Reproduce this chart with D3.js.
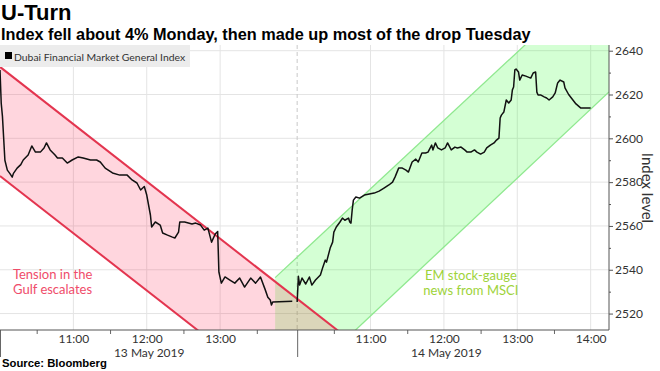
<!DOCTYPE html>
<html>
<head>
<meta charset="utf-8">
<script src="https://cdn.jsdelivr.net/npm/d3@7"></script>
<style>
  body { margin: 0; background: #fff; }
  svg { display: block; }
</style>
</head>
<body>
<script>
// U-Turn: Dubai Financial Market General Index, 13-14 May 2019

// Size of the picture and the plot box
const w = 660;
const h = 371;
const plot = {left: 0, right: 609, top: 45, bottom: 330};

// Day 1 (13 May 2019) intraday readings
const day1Times = ["10:00","10:01","10:02","10:03","10:04","10:06","10:08","10:10","10:11","10:14","10:17","10:19","10:23","10:26","10:29","10:33","10:36","10:38","10:41","10:45","10:47","10:51","10:55","10:59","11:04","11:08","11:14","11:19","11:22","11:26","11:32","11:38","11:44","11:48","11:52","11:55","11:58","12:00","12:03","12:04","12:07","12:11","12:13","12:17","12:21","12:23","12:26","12:27","12:31","12:37","12:40","12:44","12:47","12:50","12:53","12:56","12:58","12:59","13:01","13:04","13:08","13:12","13:16","13:20","13:25","13:29","13:33","13:37","13:39","13:41","13:42","13:43","13:59"];
const day1Values = [2631.2,2616,2610,2600,2590,2585.5,2584,2582.3,2584,2586.4,2588,2590.1,2592.4,2596.5,2593.7,2593.7,2595.6,2597.9,2594.7,2592.4,2591.0,2591.0,2588.7,2590.1,2591.5,2591.0,2590.1,2590.1,2589.2,2586.4,2584.2,2583.2,2583.2,2581.0,2579.6,2576.4,2578,2574.1,2565.0,2559.5,2561.8,2560.4,2556.8,2555.8,2554.9,2554.5,2557.2,2561.8,2561.8,2560.9,2561.3,2560.4,2558.1,2559.0,2552.6,2556.3,2557.5,2538.9,2533.9,2536.7,2535.3,2533.9,2536.2,2532.1,2536.2,2533.9,2536.7,2530.7,2527.5,2526.2,2523.9,2525.3,2525.6];

// Day 2 (14 May 2019) intraday readings
const day2Times = ["10:00","10:01","10:02","10:04","10:07","10:10","10:12","10:15","10:19","10:21","10:23","10:24","10:27","10:29","10:30","10:32","10:35","10:37","10:39","10:42","10:43","10:44","10:45","10:46","10:48","10:51","10:55","10:59","11:03","11:07","11:11","11:15","11:18","11:20","11:23","11:26","11:29","11:31","11:34","11:37","11:39","11:42","11:45","11:47","11:50","11:51","11:53","11:55","11:58","12:01","12:03","12:06","12:09","12:11","12:14","12:17","12:19","12:22","12:25","12:27","12:30","12:33","12:35","12:38","12:41","12:43","12:45","12:46","12:47","12:49","12:51","12:53","12:55","12:56","12:57","12:58","12:59","13:01","13:02","13:04","13:07","13:11","13:13","13:15","13:16","13:17","13:19","13:22","13:24","13:26","13:29","13:31","13:33","13:35","13:38","13:39","13:42","13:48","13:52","13:56","14:00"];
const day2Values = [2525.3,2537.0,2533.0,2536.2,2533.5,2536.7,2533.0,2535.3,2537.6,2541.2,2544.4,2543.5,2549.9,2552.6,2557.2,2559.5,2561.8,2563.6,2562.6,2563.6,2561.8,2561.3,2567.3,2571.8,2573.2,2572.7,2574.1,2574.6,2575.0,2575.9,2577.3,2578.7,2580.0,2582.3,2586.4,2586.4,2585.5,2584.6,2589.2,2590.5,2589.2,2593.3,2593.3,2593.7,2596.9,2594.7,2597.9,2595.6,2594.7,2595.6,2597.9,2594.7,2596.0,2595.6,2596.0,2594.7,2593.7,2593.7,2594.7,2593.7,2592.8,2593.7,2595.6,2596.9,2597.9,2599.2,2600.1,2609.3,2610.6,2612.0,2617.5,2616.1,2617.5,2622.1,2623.4,2631.2,2631.6,2630.3,2626.6,2628.9,2628.4,2627.5,2629.8,2630.3,2621.1,2619.8,2619.8,2618.9,2618.4,2617.5,2618.9,2620.7,2625.3,2626.6,2625.7,2623.0,2620.0,2615.7,2613.8,2613.8,2613.8];

// Axis labels
const dayLabels = ["13 May 2019", "14 May 2019"];
const day1Hours = ["11:00", "12:00", "13:00"];
const day2Hours = ["11:00", "12:00", "13:00", "14:00"];
const halfHours = ["10:30", "11:30", "12:30", "13:30"];
const yTicks = [2520, 2540, 2560, 2580, 2600, 2620, 2640];
const yMinorTicks = [2530, 2550, 2570, 2590, 2610, 2630];

// Trend channels, as [session minute, index level]
const redUpper = [[0, 2632.6], [300, 2501.9]];
const redLower = [[0, 2582.8], [200, 2495.7]];
const greenUpper = [[225, 2536.4], [498, 2678.3]];
const greenLower = [[225, 2478.0], [498, 2621.2]];

// Session minutes: day 1 starts at 0, day 2 at 243
const dayStart = [0, 243];
const toMin = (day, s) => {
  const p = s.split(":").map(Number);
  return dayStart[day] + (p[0] - 10) * 60 + p[1];
};

const xScale = d3.scaleLinear().domain([0, 498]).range([plot.left, plot.right]);
const yScale = d3.scaleLinear().domain([2512.5, 2642.6]).range([plot.bottom, plot.top]);

const svg = d3.select("body").append("svg")
  .attr("width", w)
  .attr("height", h);

svg.append("defs").append("clipPath").attr("id", "plotClip")
  .append("rect")
  .attr("x", plot.left).attr("y", plot.top)
  .attr("width", plot.right - plot.left).attr("height", plot.bottom - plot.top);

// Titles
svg.append("text")
  .attr("x", 1).attr("y", 20)
  .style("font-family", "Liberation Sans, Arial, sans-serif")
  .style("font-weight", "bold")
  .style("font-size", "22px")
  .style("fill", "#000")
  .text("U-Turn");

svg.append("text")
  .attr("x", 1).attr("y", 39.5)
  .style("font-family", "Liberation Sans, Arial, sans-serif")
  .style("font-weight", "bold")
  .style("font-size", "16.3px")
  .style("fill", "#000")
  .text("Index fell about 4% Monday, then made up most of the drop Tuesday");

// Gridlines
const hourMins = day1Hours.map(t => toMin(0, t)).concat(day2Hours.map(t => toMin(1, t)));
const halfMins = halfHours.map(t => toMin(0, t)).concat(halfHours.map(t => toMin(1, t)));

svg.append("g").selectAll("line")
  .data(yTicks)
  .enter().append("line")
  .attr("x1", plot.left).attr("x2", plot.right)
  .attr("y1", d => yScale(d)).attr("y2", d => yScale(d))
  .attr("stroke", "#e4e4e4").attr("stroke-width", 1);

svg.append("g").selectAll("line")
  .data(hourMins)
  .enter().append("line")
  .attr("x1", d => xScale(d)).attr("x2", d => xScale(d))
  .attr("y1", plot.top).attr("y2", plot.bottom)
  .attr("stroke", "#e4e4e4").attr("stroke-width", 1);

// Dashed day break
svg.append("line")
  .attr("x1", xScale(dayStart[1])).attr("x2", xScale(dayStart[1]))
  .attr("y1", plot.top).attr("y2", plot.bottom)
  .attr("stroke", "#c8c8c8").attr("stroke-dasharray", "4,3");

// Channels
const bands = svg.append("g").attr("clip-path", "url(#plotClip)");
const lineGen = d3.line().x(d => xScale(d[0])).y(d => yScale(d[1]));

bands.append("path")
  .attr("d", lineGen(greenUpper.concat(greenLower.slice().reverse())) + "Z")
  .attr("fill", "rgba(0,255,0,0.17)");
bands.append("path")
  .attr("d", lineGen(redUpper.concat(redLower.slice().reverse())) + "Z")
  .attr("fill", "rgba(255,30,70,0.18)");
[greenUpper, greenLower].forEach(l => {
  bands.append("path").attr("d", lineGen(l))
    .attr("fill", "none").attr("stroke", "#8fe88f").attr("stroke-width", 1.3);
});
[redUpper, redLower].forEach(l => {
  bands.append("path").attr("d", lineGen(l))
    .attr("fill", "none").attr("stroke", "#e3354f").attr("stroke-width", 2);
});

// Index line, one path per day
const priceLine = d3.line().x(d => xScale(d[0])).y(d => yScale(d[1]));
const day1 = day1Times.map((t, i) => [toMin(0, t), day1Values[i]]);
const day2 = day2Times.map((t, i) => [toMin(1, t), day2Values[i]]);
[day1, day2].forEach(d => {
  bands.append("path").attr("d", priceLine(d))
    .attr("fill", "none").attr("stroke", "#111").attr("stroke-width", 1.5)
    .attr("stroke-linejoin", "round");
});

// Legend
svg.append("rect")
  .attr("x", 0).attr("y", 45).attr("width", 190).attr("height", 22)
  .attr("fill", "#ececec");
svg.append("rect")
  .attr("x", 5).attr("y", 52).attr("width", 7).attr("height", 7)
  .attr("fill", "#000");
svg.append("text")
  .attr("x", 14).attr("y", 60.5)
  .style("font-family", "Lato, sans-serif")
  .style("font-size", "10.4px")
  .style("fill", "#333")
  .text("Dubai Financial Market General Index");

// Bottom axis: hour labels, half-hour ticks, day ticks
const axisFont = g => g.selectAll("text")
  .style("font-family", "Lato, sans-serif").style("font-size", "12px").style("fill", "#333");

const hourLabels = day1Hours.concat(day2Hours);
const xAxis = svg.append("g")
  .attr("transform", "translate(0," + plot.bottom + ")")
  .call(d3.axisBottom(xScale).tickValues(hourMins).tickSize(0).tickPadding(4)
    .tickFormat((d, i) => hourLabels[i]));
xAxis.select(".domain").remove();
axisFont(xAxis);

const xMinor = svg.append("g")
  .attr("transform", "translate(0," + plot.bottom + ")")
  .call(d3.axisBottom(xScale).tickValues(halfMins).tickSize(4).tickFormat(""));
xMinor.select(".domain").remove();
xMinor.selectAll("line").attr("stroke", "#666");

const xDays = svg.append("g")
  .attr("transform", "translate(0," + plot.bottom + ")")
  .call(d3.axisBottom(xScale).tickValues(dayStart).tickSize(27).tickFormat(""));
xDays.select(".domain").remove();
xDays.selectAll("line").attr("stroke", "#666");

svg.append("g").selectAll("text")
  .data(dayLabels)
  .enter().append("text")
  .attr("x", (d, i) => xScale(toMin(i, "12:02")))
  .attr("y", 357)
  .style("text-anchor", "middle")
  .style("font-family", "Lato, sans-serif")
  .style("font-size", "12px")
  .style("fill", "#333")
  .text(d => d);

svg.append("line")
  .attr("x1", plot.left).attr("x2", plot.right)
  .attr("y1", plot.bottom).attr("y2", plot.bottom)
  .attr("stroke", "#555");

// Right axis
const yAxis = svg.append("g")
  .attr("transform", "translate(" + plot.right + ",0)")
  .call(d3.axisRight(yScale).tickValues(yTicks).tickSize(4).tickPadding(2)
    .tickFormat(d3.format("d")));
yAxis.select(".domain").remove();
yAxis.selectAll("line").attr("stroke", "#555");
axisFont(yAxis);

const yMinor = svg.append("g")
  .attr("transform", "translate(" + plot.right + ",0)")
  .call(d3.axisRight(yScale).tickValues(yMinorTicks).tickSize(2).tickFormat(""));
yMinor.select(".domain").remove();
yMinor.selectAll("line").attr("stroke", "#555");

svg.append("line")
  .attr("x1", plot.right).attr("x2", plot.right)
  .attr("y1", plot.top).attr("y2", plot.bottom)
  .attr("stroke", "#555");

svg.append("text")
  .attr("transform", "translate(642,188) rotate(90)")
  .style("text-anchor", "middle")
  .style("font-family", "Lato, sans-serif")
  .style("font-size", "15px")
  .style("fill", "#333")
  .text("Index level");

// Annotations
const notes = [
  {lines: ["Tension in the", "Gulf escalates"], t: toMin(0, "10:43"), v: 2535.7, color: "#ef4c6a"},
  {lines: ["EM stock-gauge", "news from MSCI"], t: toMin(1, "12:22"), v: 2535.3, color: "#9ed33a"}
];
notes.forEach(n => {
  n.lines.forEach((s, i) => {
    svg.append("text")
      .attr("x", xScale(n.t))
      .attr("y", yScale(n.v) + i * 15)
      .style("text-anchor", "middle")
      .style("font-family", "Lato, sans-serif")
      .style("font-size", "13px")
      .style("fill", n.color)
      .text(s);
  });
});

// Source
svg.append("text")
  .attr("x", 2).attr("y", 367)
  .style("font-family", "Liberation Sans, Arial, sans-serif")
  .style("font-weight", "bold")
  .style("font-size", "11.3px")
  .style("fill", "#000")
  .text("Source: Bloomberg");
</script>
</body>
</html>
